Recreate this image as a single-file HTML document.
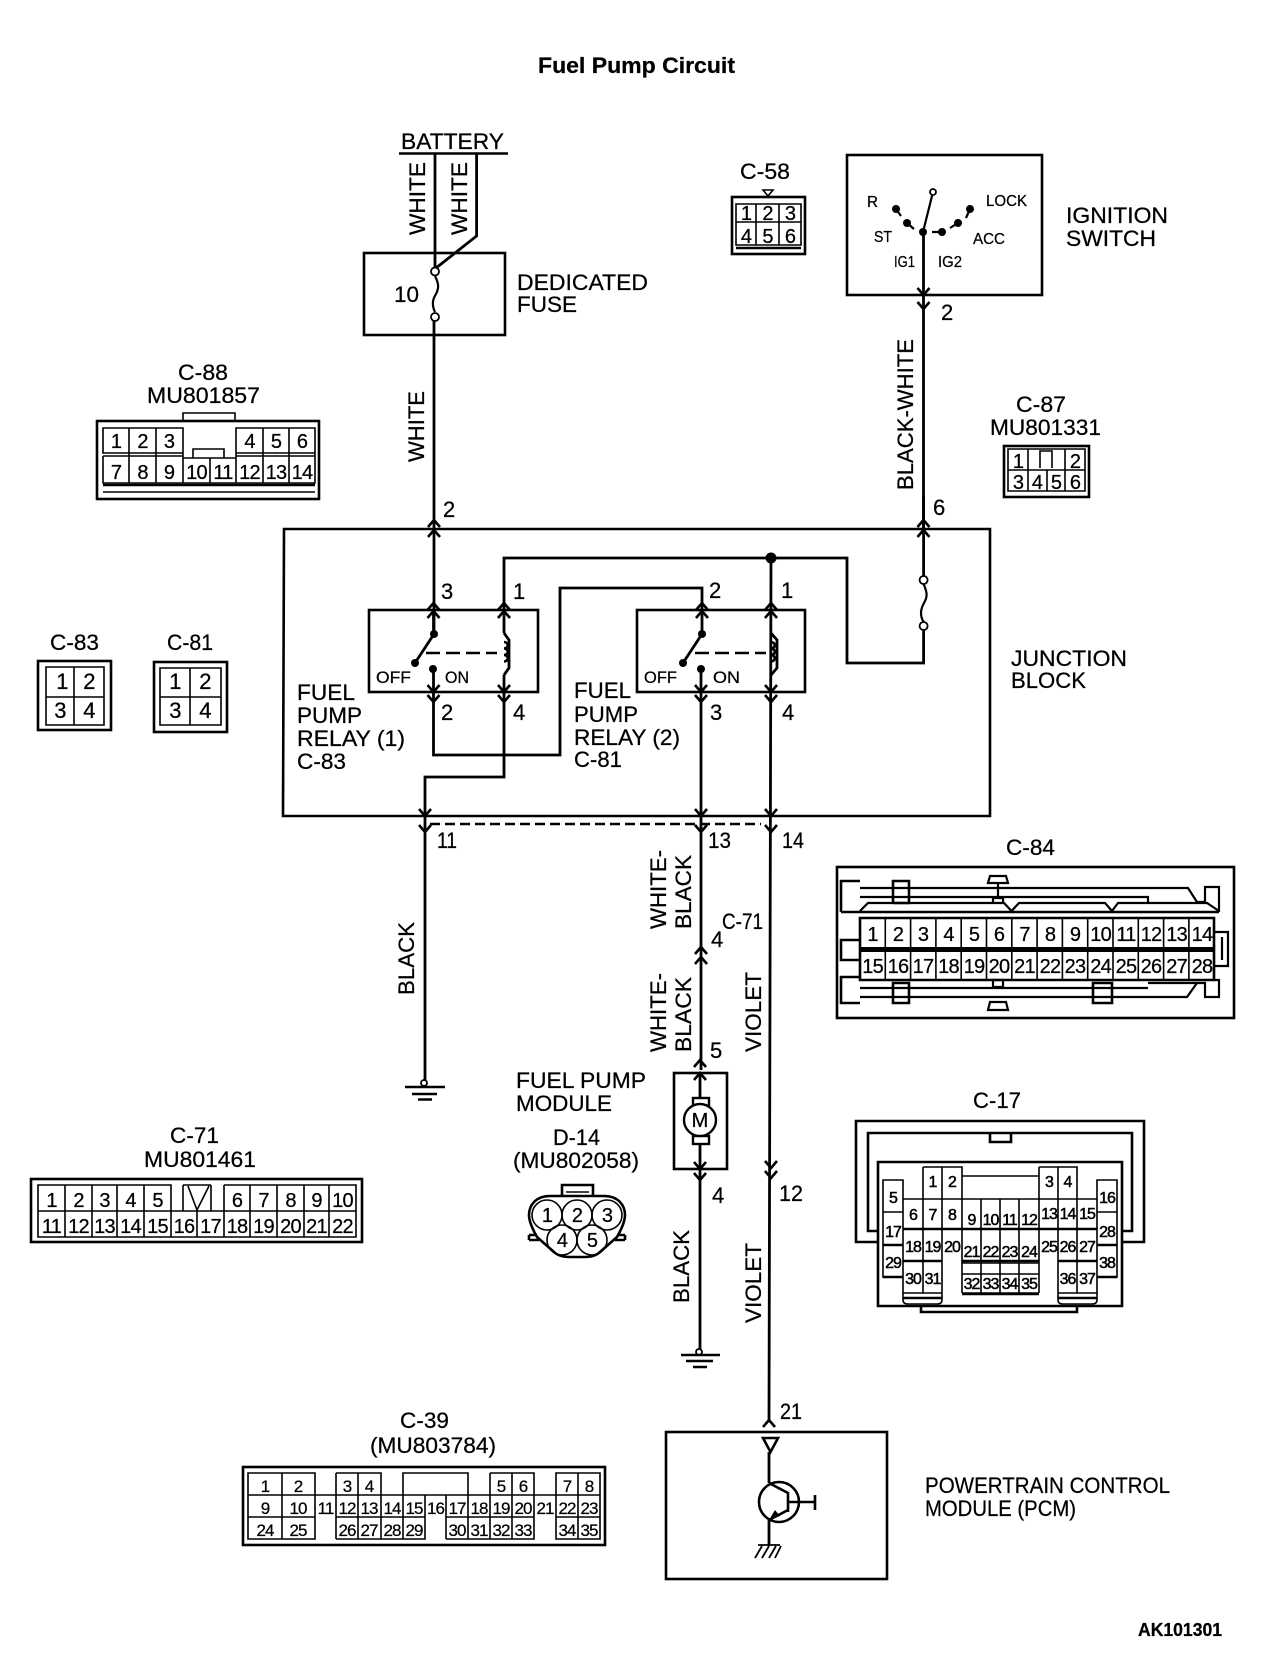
<!DOCTYPE html>
<html><head><meta charset="utf-8"><title>Fuel Pump Circuit</title>
<style>
html,body{margin:0;padding:0;background:#fff}
svg{display:block}
text{font-family:"Liberation Sans",sans-serif;fill:#000;font-size:22px;stroke:#000;stroke-width:.25}
.w{fill:none;stroke:#000;stroke-width:2.8}
.b{fill:none;stroke:#000;stroke-width:2.6}
.t{fill:none;stroke:#000;stroke-width:1.6}
.h{fill:none;stroke:#000;stroke-width:2.2}
.k{fill:#000;stroke:none}
.o{fill:#fff;stroke:#000;stroke-width:1.8}
.n text,text.n{text-anchor:middle;font-size:20px;letter-spacing:-.8px}
.s text{text-anchor:middle;font-size:16px;letter-spacing:-1px;stroke-width:.5}
.m text{text-anchor:middle;font-size:17px;letter-spacing:-1px}
.l text{font-size:16px}
</style></head><body>
<svg xmlns="http://www.w3.org/2000/svg" width="1264" height="1670" viewBox="0 0 1264 1670">
<rect width="1264" height="1670" fill="#fff"/>
<text x="538" y="73" font-weight="bold" style="font-size:22px" textLength="197" lengthAdjust="spacingAndGlyphs">Fuel Pump Circuit</text>

<!-- battery and fuse -->
<text x="401" y="149" textLength="103" lengthAdjust="spacingAndGlyphs">BATTERY</text>
<path class="b" d="M399 153.500H508"/>
<path class="w" d="M435 154V268M476.600 154V236L436 268M434 321V634"/>
<text transform="translate(425 235) rotate(-90)" textLength="73" lengthAdjust="spacingAndGlyphs">WHITE</text>
<text transform="translate(467 235) rotate(-90)" textLength="73" lengthAdjust="spacingAndGlyphs">WHITE</text>
<rect class="b" x="364" y="253" width="141" height="82"/>
<path class="h" d="M435 276C439 284 439 288 436 294C432 300 432 306 435 312"/>
<circle class="o" cx="435" cy="271.500" r="4"/><circle class="o" cx="435" cy="317" r="4"/>
<text x="394" y="302" textLength="25" lengthAdjust="spacingAndGlyphs">10</text>
<text x="517" y="290" textLength="131" lengthAdjust="spacingAndGlyphs">DEDICATED</text>
<text x="517" y="312" textLength="60" lengthAdjust="spacingAndGlyphs">FUSE</text>
<text transform="translate(424 462) rotate(-90)" textLength="71" lengthAdjust="spacingAndGlyphs">WHITE</text>
<text x="443" y="517">2</text>

<!-- ignition switch -->
<rect class="b" x="847" y="155" width="195" height="140"/>
<path class="w" d="M923.500 232V529"/>
<path class="h" d="M923 232L933 192M896 209L901 216M907 223L914 229M932 232H942M958 223L950 228M970 209L966 218"/>
<circle class="k" cx="923" cy="232" r="4"/><circle class="k" cx="896" cy="209" r="4"/><circle class="k" cx="907" cy="223" r="4"/><circle class="k" cx="942" cy="232" r="4"/><circle class="k" cx="958" cy="223" r="4"/><circle class="k" cx="970" cy="209" r="4"/><circle class="o" cx="933" cy="192" r="3"/>
<g class="l">
<text x="867" y="207" textLength="11" lengthAdjust="spacingAndGlyphs">R</text>
<text x="986" y="206" textLength="41" lengthAdjust="spacingAndGlyphs">LOCK</text>
<text x="874" y="242" textLength="18" lengthAdjust="spacingAndGlyphs">ST</text>
<text x="973" y="244" textLength="32" lengthAdjust="spacingAndGlyphs">ACC</text>
<text x="894" y="267" textLength="21" lengthAdjust="spacingAndGlyphs">IG1</text>
<text x="938" y="267" textLength="24" lengthAdjust="spacingAndGlyphs">IG2</text>
</g>
<text x="1066" y="223" textLength="102" lengthAdjust="spacingAndGlyphs">IGNITION</text>
<text x="1066" y="246" textLength="90" lengthAdjust="spacingAndGlyphs">SWITCH</text>
<text x="941" y="320">2</text>
<text transform="translate(913 490) rotate(-90)" textLength="151" lengthAdjust="spacingAndGlyphs">BLACK-WHITE</text>
<text x="933" y="515">6</text>

<!-- C-58 -->
<text x="740" y="179" textLength="50" lengthAdjust="spacingAndGlyphs">C-58</text>
<path class="t" d="M763 190H773L768 196Z"/>
<rect class="b" x="732" y="197" width="73" height="57"/>
<path class="t" d="M736 204H801V245H736ZM756 204V245M779 204V245M736 222H801"/>
<path class="b" d="M736 248H801"/>
<g class="n"><text x="746" y="220">1</text><text x="767.500" y="220">2</text><text x="790" y="220">3</text><text x="746" y="243">4</text><text x="767.500" y="243">5</text><text x="790" y="243">6</text></g>

<!-- C-87 -->
<text x="1016" y="412" textLength="50" lengthAdjust="spacingAndGlyphs">C-87</text>
<text x="990" y="435" textLength="111" lengthAdjust="spacingAndGlyphs">MU801331</text>
<rect class="b" x="1004" y="446" width="85" height="51"/>
<path class="t" d="M1008 449H1085V491H1008ZM1008 470H1085M1028 449V491M1065 449V491M1047 470V491M1040 468V451H1052V468"/>
<g class="n"><text x="1018" y="468">1</text><text x="1075" y="468">2</text><text x="1018" y="489">3</text><text x="1037" y="489">4</text><text x="1056" y="489">5</text><text x="1075" y="489">6</text></g>

<!-- C-88 -->
<text x="178" y="380" textLength="50" lengthAdjust="spacingAndGlyphs">C-88</text>
<text x="147" y="403" textLength="113" lengthAdjust="spacingAndGlyphs">MU801857</text>
<path class="t" d="M183 421V413H235V421"/>
<rect class="b" x="97" y="421" width="222" height="78"/>
<path class="t" d="M103 428H183V453H103ZM129 428V483M156 428V483M183 428V483M236 428H315V453H236ZM263 428V483M289 428V483M236 428V483M103 456H183M236 456H315M103 456V483H315V428M210 458V483M193 458V449H224V458M183 458H236M103 492H315"/>
<path class="b" d="M103 485H315"/>
<g class="n"><text x="116" y="448">1</text><text x="142.500" y="448">2</text><text x="169" y="448">3</text><text x="249.500" y="448">4</text><text x="276" y="448">5</text><text x="302" y="448">6</text>
<text x="116" y="479">7</text><text x="142.500" y="479">8</text><text x="169" y="479">9</text><text x="196.500" y="479">10</text><text x="223" y="479">11</text><text x="249.500" y="479">12</text><text x="276" y="479">13</text><text x="302" y="479">14</text></g>

<!-- C-83 / C-81 -->
<text x="50" y="650" textLength="49" lengthAdjust="spacingAndGlyphs">C-83</text>
<rect class="b" x="38" y="661" width="73" height="69"/>
<path class="t" d="M46 667H104V725H46ZM74 667V725M46 697H104"/>
<g class="n"><text x="62" y="689" style="font-size:22px">1</text><text x="89" y="689" style="font-size:22px">2</text><text x="60" y="718" style="font-size:22px">3</text><text x="89" y="718" style="font-size:22px">4</text></g>
<text x="167" y="650" textLength="46" lengthAdjust="spacingAndGlyphs">C-81</text>
<rect class="b" x="154" y="662" width="73" height="70"/>
<path class="t" d="M160 668H221V725H160ZM190 668V725M160 697H221"/>
<g class="n"><text x="175" y="689" style="font-size:22px">1</text><text x="205" y="689" style="font-size:22px">2</text><text x="175" y="718" style="font-size:22px">3</text><text x="205" y="718" style="font-size:22px">4</text></g>

<!-- junction block -->
<path class="b" d="M284 529H990V816H283Z"/>
<path class="w" d="M433.500 692V755H560V588H702V634M504 633V558H847V663H923.600V630M923.600 576V496M504 675V777H425V1083M701 669V1070M771 558L769 1420"/>
<path class="w" d="M504 633L509 640V668L504 675M771 633L777 640V668L771 675M433.500 634V610M433.500 669V692"/>
<path class="h" d="M923.600 584C927 592 928 596 924 603C920 610 920 616 923.600 622"/>
<circle class="o" cx="923.600" cy="580" r="4"/><circle class="o" cx="923.600" cy="626" r="4"/>
<circle class="k" cx="771" cy="558" r="5.500"/>
<rect class="b" x="369" y="610" width="169" height="82"/>
<rect class="b" x="637" y="610" width="168" height="82"/>
<path class="w" d="M434 634L415 663M702 634L683 663"/>
<circle class="k" cx="434" cy="634" r="4"/><circle class="k" cx="415" cy="663" r="4"/><circle class="k" cx="433" cy="669" r="4"/>
<circle class="k" cx="702" cy="634" r="4"/><circle class="k" cx="683" cy="663" r="4"/><circle class="k" cx="701" cy="669" r="4"/>
<path class="b" stroke-dasharray="14 6" d="M426 653H497M695 653H766"/>
<path class="b" d="M504 642a3.500 3 0 0 1 0 6.500a3.500 3 0 0 1 0 6.500a3.500 3 0 0 1 0 6.500M771 642a3.500 3 0 0 1 0 6.500a3.500 3 0 0 1 0 6.500a3.500 3 0 0 1 0 6.500"/>
<path class="b" stroke-dasharray="10 5" d="M430 824H761"/>
<text x="441" y="599">3</text><text x="513" y="599">1</text><text x="709" y="598">2</text><text x="781" y="598">1</text>
<text x="441" y="720">2</text><text x="513" y="720">4</text><text x="710" y="720">3</text><text x="782" y="720">4</text>
<text x="437" y="848" textLength="20" lengthAdjust="spacingAndGlyphs">11</text><text x="708" y="848" textLength="23" lengthAdjust="spacingAndGlyphs">13</text><text x="782" y="848" textLength="22" lengthAdjust="spacingAndGlyphs">14</text>
<text x="376" y="683" style="font-size:17px" textLength="35" lengthAdjust="spacingAndGlyphs">OFF</text><text x="445" y="683" style="font-size:17px" textLength="24" lengthAdjust="spacingAndGlyphs">ON</text>
<text x="644" y="683" style="font-size:17px" textLength="33" lengthAdjust="spacingAndGlyphs">OFF</text><text x="713" y="683" style="font-size:17px" textLength="27" lengthAdjust="spacingAndGlyphs">ON</text>
<text x="297" y="700" textLength="58" lengthAdjust="spacingAndGlyphs">FUEL</text><text x="297" y="723" textLength="65" lengthAdjust="spacingAndGlyphs">PUMP</text><text x="297" y="746" textLength="108" lengthAdjust="spacingAndGlyphs">RELAY (1)</text><text x="297" y="769" textLength="49" lengthAdjust="spacingAndGlyphs">C-83</text>
<text x="574" y="698" textLength="57" lengthAdjust="spacingAndGlyphs">FUEL</text><text x="574" y="722" textLength="64" lengthAdjust="spacingAndGlyphs">PUMP</text><text x="574" y="745" textLength="106" lengthAdjust="spacingAndGlyphs">RELAY (2)</text><text x="574" y="767" textLength="48" lengthAdjust="spacingAndGlyphs">C-81</text>
<text x="1011" y="666" textLength="116" lengthAdjust="spacingAndGlyphs">JUNCTION</text><text x="1011" y="688" textLength="75" lengthAdjust="spacingAndGlyphs">BLOCK</text>

<!-- chevrons -->
<path class="b" d="M428 527L434 520L440 527M428 537L434 530L440 537M917.500 527L923.500 520L929.500 527M917.500 537L923.500 530L929.500 537M427.500 610L433.500 603L439.500 610M427.500 618L433.500 611L439.500 618M498 610L504 603L510 610M498 618L504 611L510 618M696 610L702 603L708 610M696 618L702 611L708 618M765 610L771 603L777 610M765 618L771 611L777 618M695 954L701 947L707 954M695 964L701 957L707 964M694 1067L700 1060L706 1067M694 1080L700 1073L706 1080M763 1427L769 1420L775 1427M917.500 288L923.500 295L929.500 288M917.500 302L923.500 309L929.500 302M427.500 685L433.500 692L439.500 685M427.500 695L433.500 702L439.500 695M498 685L504 692L510 685M498 695L504 702L510 695M695 685L701 692L707 685M695 695L701 702L707 695M765 685L771 692L777 685M765 695L771 702L777 695M419 809L425 816L431 809M419 825L425 832L431 825M695 809L701 816L707 809M695 825L701 832L707 825M765 809L771 816L777 809M765 825L771 832L777 825M694 1162L700 1169L706 1162M694 1173L700 1180L706 1173M765 1161L771 1168L777 1161M765 1171L771 1178L777 1171"/>

<!-- left ground -->
<circle class="o" cx="424" cy="1083" r="3"/>
<path class="b" d="M405 1087H445M412 1094H437M418 1099.500H432"/>
<text transform="translate(414 995) rotate(-90)" textLength="73" lengthAdjust="spacingAndGlyphs">BLACK</text>

<!-- module wires -->
<text transform="translate(666 929) rotate(-90)" textLength="79" lengthAdjust="spacingAndGlyphs">WHITE-</text>
<text transform="translate(691 929) rotate(-90)" textLength="74" lengthAdjust="spacingAndGlyphs">BLACK</text>
<text transform="translate(666 1052) rotate(-90)" textLength="79" lengthAdjust="spacingAndGlyphs">WHITE-</text>
<text transform="translate(691 1052) rotate(-90)" textLength="75" lengthAdjust="spacingAndGlyphs">BLACK</text>
<text transform="translate(761 1052) rotate(-90)" textLength="80" lengthAdjust="spacingAndGlyphs">VIOLET</text>
<text x="722" y="929" textLength="41" lengthAdjust="spacingAndGlyphs">C-71</text>
<text x="711" y="947">4</text><text x="710" y="1058">5</text>
<rect class="b" x="674" y="1073" width="53" height="96"/>
<path class="w" d="M700 1073V1098M700 1144V1352"/>
<rect class="o" x="693" y="1098" width="16" height="9" style="stroke-width:2.400"/>
<rect class="o" x="693" y="1136" width="16" height="8" style="stroke-width:2.400"/>
<circle class="o" cx="700" cy="1120" r="16" style="stroke-width:2.400"/>
<text x="700" y="1127" text-anchor="middle" style="font-size:20px">M</text>
<text x="712" y="1203">4</text><text x="779" y="1201" textLength="24" lengthAdjust="spacingAndGlyphs">12</text>
<text transform="translate(689 1303) rotate(-90)" textLength="73" lengthAdjust="spacingAndGlyphs">BLACK</text>
<text transform="translate(761 1323) rotate(-90)" textLength="80" lengthAdjust="spacingAndGlyphs">VIOLET</text>
<circle class="o" cx="699" cy="1352" r="3"/>
<path class="b" d="M681 1355H720M686 1361H713M693 1367H707"/>
<text x="516" y="1088" textLength="130" lengthAdjust="spacingAndGlyphs">FUEL PUMP</text>
<text x="516" y="1111" textLength="96" lengthAdjust="spacingAndGlyphs">MODULE</text>
<text x="553" y="1145" textLength="47" lengthAdjust="spacingAndGlyphs">D-14</text>
<text x="513" y="1168" textLength="126" lengthAdjust="spacingAndGlyphs">(MU802058)</text>

<!-- D-14 connector -->
<path class="b" d="M562 1195V1185H593V1195M529 1235H537M617 1235H625M529 1240H539M615 1240H625M529 1235V1240M625 1235V1240"/>
<path class="t" d="M566 1192H589"/>
<path class="b" d="M550 1196H604C618 1196 625 1205 625 1215C625 1222 621 1230 617 1237L600 1252C596 1256 590 1257 585 1257H570C565 1257 558 1256 554 1252L537 1237C533 1230 529 1222 529 1215C529 1205 536 1196 550 1196Z"/>
<g class="t"><circle cx="547" cy="1215" r="15"/><circle cx="577" cy="1215" r="15"/><circle cx="607" cy="1215" r="15"/><circle cx="562" cy="1240" r="15"/><circle cx="592" cy="1240" r="15"/></g>
<g class="n"><text x="547" y="1222">1</text><text x="577" y="1222">2</text><text x="607" y="1222">3</text><text x="562" y="1247">4</text><text x="592" y="1247">5</text></g>

<!-- C-71 connector -->
<text x="170" y="1143" textLength="49" lengthAdjust="spacingAndGlyphs">C-71</text>
<text x="144" y="1167" textLength="112" lengthAdjust="spacingAndGlyphs">MU801461</text>
<rect class="b" x="31" y="1179" width="331" height="63"/>
<path class="t" d="M38 1185H171V1211H38ZM65 1185V1237M92 1185V1237M117 1185V1237M144 1185V1237M171 1211V1237M197 1211V1237M224 1185H356V1237H38V1211H356M250 1185V1237M277 1185V1237M304 1185V1237M329 1185V1237M224 1185V1237M183 1185V1211H211V1185M183 1185H211M188 1186L197 1210L209 1186"/>
<g class="n"><text x="51.500" y="1207">1</text><text x="78.500" y="1207">2</text><text x="104.500" y="1207">3</text><text x="130.500" y="1207">4</text><text x="157.500" y="1207">5</text><text x="237" y="1207">6</text><text x="263.500" y="1207">7</text><text x="290.500" y="1207">8</text><text x="316.500" y="1207">9</text><text x="342.500" y="1207">10</text>
<text x="51.500" y="1233">11</text><text x="78.500" y="1233">12</text><text x="104.500" y="1233">13</text><text x="130.500" y="1233">14</text><text x="157.500" y="1233">15</text><text x="184" y="1233">16</text><text x="210.500" y="1233">17</text><text x="237" y="1233">18</text><text x="263.500" y="1233">19</text><text x="290.500" y="1233">20</text><text x="316.500" y="1233">21</text><text x="342.500" y="1233">22</text></g>

<!-- C-39 connector -->
<text x="400" y="1428" textLength="49" lengthAdjust="spacingAndGlyphs">C-39</text>
<text x="370" y="1453" textLength="126" lengthAdjust="spacingAndGlyphs">(MU803784)</text>
<rect class="b" x="243" y="1467" width="362" height="78"/>
<path class="t" d="M248 1473H315V1539H248ZM282 1473V1539M336 1473H381V1495M336 1473V1539M358 1473V1539M403 1495V1473H468V1495M490 1473H534V1495M490 1473V1539M512 1473V1539M534 1473V1539M556 1473H600V1539H556ZM578 1473V1539M248 1495H600M248 1517H315M336 1517H425V1539H336M381 1495V1539M403 1495V1539M425 1495V1517M446 1495V1539M468 1495V1539M315 1495V1517M446 1517H534V1539H446M556 1517H600M534 1495V1517M556 1495V1539M578 1495V1539"/>
<g class="m"><text x="265" y="1492">1</text><text x="298" y="1492">2</text><text x="347" y="1492">3</text><text x="369" y="1492">4</text><text x="501" y="1492">5</text><text x="523" y="1492">6</text><text x="567" y="1492">7</text><text x="589" y="1492">8</text>
<text x="265" y="1514">9</text><text x="298" y="1514">10</text><text x="325.500" y="1514">11</text><text x="347" y="1514">12</text><text x="369" y="1514">13</text><text x="392" y="1514">14</text><text x="414" y="1514">15</text><text x="435.500" y="1514">16</text><text x="457" y="1514">17</text><text x="479" y="1514">18</text><text x="501" y="1514">19</text><text x="523" y="1514">20</text><text x="545" y="1514">21</text><text x="567" y="1514">22</text><text x="589" y="1514">23</text>
<text x="265" y="1536">24</text><text x="298" y="1536">25</text><text x="347" y="1536">26</text><text x="369" y="1536">27</text><text x="392" y="1536">28</text><text x="414" y="1536">29</text><text x="457" y="1536">30</text><text x="479" y="1536">31</text><text x="501" y="1536">32</text><text x="523" y="1536">33</text><text x="567" y="1536">34</text><text x="589" y="1536">35</text></g>

<!-- C-84 -->
<text x="1006" y="855" textLength="49" lengthAdjust="spacingAndGlyphs">C-84</text>
<rect class="b" x="837" y="867" width="397" height="151"/>
<path class="b" d="M860 881H841V912M893 903V881H909V903H893M841 912H1219M860 940H841V960H860M860 977H841V1003H860M893 983H909V1003H893ZM1093 983H1112V1003H1093Z"/>
<path class="h" d="M860 888H1188L1197 902H1205V887H1219V912M860 897H1148V903M860 911L868 903H1004L1011.500 911L1019 903H1105L1112 911L1118 903H1207L1219 911M860 988H1148M860 997H1187L1197 983M1214 932H1228V966H1214M1222 937V960M1214 980H1219V997H1205V983H1148M993 898H1003V903H993ZM998 883V898M990 876H1006L1008 883H988ZM993 980H1003V987H993ZM990 1002H1006L1008 1010H988Z"/>
<path class="b" d="M860 918H1214V980H860Z"/>
<path class="k" d="M860 947H1214V952H860Z"/>
<path class="t" d="M885.300 918V980M910.600 918V980M935.900 918V980M961.200 918V980M986.500 918V980M1011.800 918V980M1037.100 918V980M1062.400 918V980M1087.700 918V980M1113 918V980M1138.300 918V980M1163.600 918V980M1188.900 918V980"/>
<g class="n"><text x="872.600" y="941">1</text><text x="898" y="941">2</text><text x="923" y="941">3</text><text x="948.500" y="941">4</text><text x="974" y="941">5</text><text x="999" y="941">6</text><text x="1024.500" y="941">7</text><text x="1050" y="941">8</text><text x="1075" y="941">9</text><text x="1100.600" y="941">10</text><text x="1126" y="941">11</text><text x="1151" y="941">12</text><text x="1176.600" y="941">13</text><text x="1202" y="941">14</text>
<text x="872.600" y="973">15</text><text x="898" y="973">16</text><text x="923" y="973">17</text><text x="948.500" y="973">18</text><text x="974" y="973">19</text><text x="999" y="973">20</text><text x="1024.500" y="973">21</text><text x="1050" y="973">22</text><text x="1075" y="973">23</text><text x="1100.600" y="973">24</text><text x="1126" y="973">25</text><text x="1151" y="973">26</text><text x="1176.600" y="973">27</text><text x="1202" y="973">28</text></g>

<!-- C-17 -->
<text x="973" y="1108" textLength="48" lengthAdjust="spacingAndGlyphs">C-17</text>
<path class="b" d="M878 1242H856V1121H1144V1242H1122M878 1231H868V1133H1132V1231H1122M990 1133V1142H1011V1133"/>
<path class="b" d="M878 1162H1122V1306H878ZM921 1306V1312H1077V1306"/>
<path class="t" d="M923 1167H962V1199M923 1167V1293M942 1167V1293M962 1176H1039M1039 1167H1077V1199M1039 1167V1293M1058 1167V1293M1077 1167V1293M883 1180H903V1277H883ZM1097 1180H1117V1277H1097ZM903 1199H1097M903 1199V1293M1097 1199V1293M962 1199V1293M981 1199V1293M1000 1199V1293M1019 1199V1293M883 1212H903M1097 1212H1117M903 1293H942M962 1293H1039M1058 1293H1097M962 1263H1039M962 1274H1039M903 1293V1300Q903 1304 908 1304H937Q942 1304 942 1300V1293M1058 1293V1300Q1058 1304 1063 1304H1092Q1097 1304 1097 1300V1293"/>
<path class="b" d="M903 1229H1097M883 1245H903M1097 1245H1117M903 1261H942M1058 1261H1097M962 1261H1039M883 1277H903M1097 1277H1117M903 1298H942M1058 1298H1097M962 1294H1039"/>
<g class="s">
<text x="932.500" y="1187">1</text><text x="952" y="1187">2</text><text x="1049" y="1187">3</text><text x="1067.500" y="1187">4</text>
<text x="893" y="1203">5</text><text x="1107" y="1203">16</text>
<text x="913" y="1220">6</text><text x="932.500" y="1220">7</text><text x="952" y="1220">8</text><text x="971.500" y="1225">9</text><text x="990.500" y="1225">10</text><text x="1009.500" y="1225">11</text><text x="1029" y="1225">12</text><text x="1049" y="1219">13</text><text x="1067.500" y="1219">14</text><text x="1087" y="1219">15</text>
<text x="893" y="1237">17</text><text x="1107" y="1237">28</text>
<text x="913" y="1252">18</text><text x="932.500" y="1252">19</text><text x="952" y="1252">20</text><text x="971.500" y="1257">21</text><text x="990.500" y="1257">22</text><text x="1009.500" y="1257">23</text><text x="1029" y="1257">24</text><text x="1049" y="1252">25</text><text x="1067.500" y="1252">26</text><text x="1087" y="1252">27</text>
<text x="893" y="1268">29</text><text x="1107" y="1268">38</text>
<text x="913" y="1284">30</text><text x="932.500" y="1284">31</text><text x="971.500" y="1289">32</text><text x="990.500" y="1289">33</text><text x="1009.500" y="1289">34</text><text x="1029" y="1289">35</text><text x="1067.500" y="1284">36</text><text x="1087" y="1284">37</text>
</g>

<!-- PCM -->
<rect class="b" x="666" y="1432" width="221" height="147"/>
<path class="b" d="M763 1438H778L770.500 1452Z"/>
<path class="w" d="M769 1452V1483M769 1520V1545"/>
<circle class="b" cx="779" cy="1502" r="20"/>
<path class="b" d="M769 1483L788 1493M788 1492V1512M788 1502H815M815 1495V1510M788 1510L769 1520"/>
<path class="k" d="M769 1520L775 1510L780 1516Z"/>
<path class="b" d="M758 1545H780M762 1546L755 1558M769 1546L762 1558M776 1546L769 1558M781 1546L775 1558" style="stroke-width:1.800"/>
<text x="925" y="1493" textLength="245" lengthAdjust="spacingAndGlyphs">POWERTRAIN CONTROL</text>
<text x="925" y="1516" textLength="151" lengthAdjust="spacingAndGlyphs">MODULE (PCM)</text>
<text x="780" y="1419" textLength="22" lengthAdjust="spacingAndGlyphs">21</text>
<text x="1138" y="1636" font-weight="bold" style="font-size:18px" textLength="84" lengthAdjust="spacingAndGlyphs">AK101301</text>
</svg>
</body></html>
